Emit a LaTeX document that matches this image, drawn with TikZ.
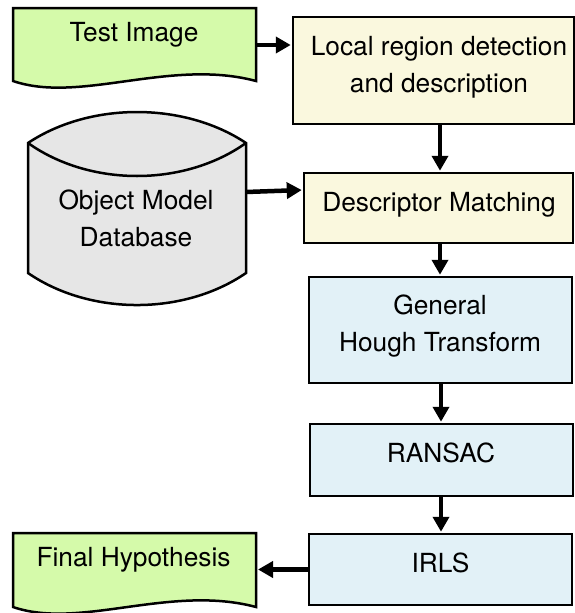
\documentclass[tikz,border=0pt]{standalone}
\usepackage{fontspec}
\setmainfont{TeX Gyre Heros}
\usetikzlibrary{arrows.meta}
\definecolor{docgreen}{RGB}{213,250,170}
\definecolor{boxyellow}{RGB}{250,248,222}
\definecolor{boxblue}{RGB}{226,241,247}
\definecolor{dbgray}{RGB}{230,230,230}
\begin{document}
\begin{tikzpicture}[x=1pt,y=-1pt,
  stepbox/.style={draw=black,line width=2.5pt,rectangle,inner sep=0pt},
  lbl/.style={inner sep=0pt,align=center,font=\fontsize{26.3}{37}\selectfont},
  flow/.style={line width=4.5pt,shorten >=1pt,-{Triangle[length=15pt,width=16pt]}},
  shapeline/.style={draw=black,line width=2.5pt,line join=miter}]
\useasboundingbox (0,0) rectangle (575,613);

% process boxes
\node[stepbox,fill=boxyellow,minimum width=281pt,minimum height=107pt] (b1) at (433.5,70.5) {};
\node[stepbox,fill=boxyellow,minimum width=269pt,minimum height=70pt] (b2) at (438.5,208) {};
\node[stepbox,fill=boxblue,minimum width=263pt,minimum height=106pt] (b3) at (440.5,330) {};
\node[stepbox,fill=boxblue,minimum width=263pt,minimum height=72pt] (b4) at (441.5,460) {};
\node[stepbox,fill=boxblue,minimum width=263pt,minimum height=71pt] (b5) at (440.5,569.5) {};

\node[lbl] (t1) at (439,66.8) {Local region detection\\and description};
\node[lbl] (t2) at (439,204.3) {Descriptor Matching};
\node[lbl] (t3) at (440,325.8) {General\\Hough Transform};
\node[lbl] (t4) at (441,453.3) {RANSAC};
\node[lbl] (t5) at (440.5,563.1) {IRLS};

% documents
\draw[shapeline,fill=docgreen] (13,8) -- (256,8) -- (256,81)
  .. controls (170,58) and (80,104) .. (13,81) -- cycle;
\node[lbl] (test) at (134,35) {Test Image};
\draw[shapeline,fill=docgreen] (13,533) -- (256,533) -- (256,607)
  .. controls (170,584) and (80,630) .. (13,607) -- cycle;
\node[lbl] (final) at (133.5,560) {Final Hypothesis};

% database
\draw[shapeline,fill=dbgray] (28,143) .. controls (90,101.7) and (184,101.7) .. (246,143)
  -- (246,273) .. controls (184,315.7) and (90,315.7) .. (28,273) -- cycle;
\draw[shapeline] (28,143) .. controls (90,187) and (184,187) .. (246,143);
\node[lbl] (db) at (136,218.5) {Object Model\\Database};

% connectors
\coordinate (testE) at (256,45);
\coordinate (dbE) at (246,192);
\coordinate (finalE) at (257,569.5);
\draw[flow] (testE) -- ([yshift=25.5pt]b1.west);
\draw[flow] ([xshift=6.5pt]b1.south) -- ([xshift=1.5pt]b2.north);
\draw[flow] (dbE) -- ([yshift=18pt]b2.west);
\draw[flow] ([xshift=1.5pt]b2.south) -- ([xshift=-0.5pt]b3.north);
\draw[flow] ([xshift=0.5pt]b3.south) -- ([xshift=-0.5pt]b4.north);
\draw[flow] ([xshift=-0.5pt]b4.south) -- ([xshift=0.5pt]b5.north);
\draw[flow] (b5.west) -- (finalE);
\end{tikzpicture}
\end{document}
